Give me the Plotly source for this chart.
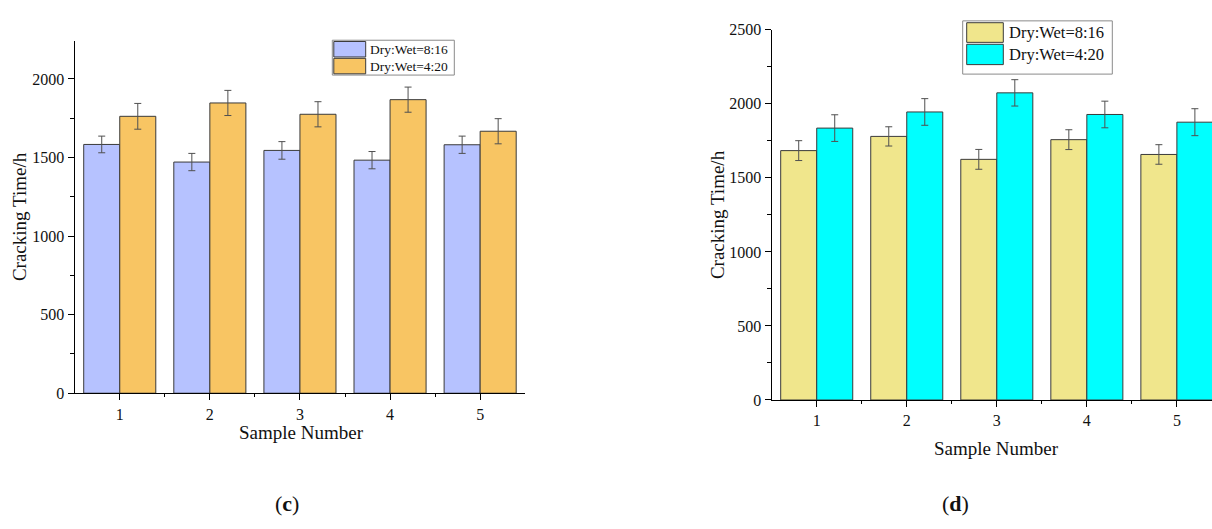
import plotly.graph_objects as go

# ---------------- data ----------------
samples = [1, 2, 3, 4, 5]
series_names = ["Dry:Wet=8:16", "Dry:Wet=4:20"]

# panel (c)
c_dry816 = [1583, 1471, 1545, 1483, 1581]
c_dry816_err = [53, 55, 56, 55, 55]
c_dry420 = [1762, 1847, 1775, 1868, 1667]
c_dry420_err = [82, 80, 80, 80, 80]

# panel (d)
d_dry816 = [1684, 1780, 1625, 1758, 1658]
d_dry816_err = [67, 65, 67, 67, 66]
d_dry420 = [1836, 1945, 2074, 1928, 1876]
d_dry420_err = [90, 90, 89, 90, 91]

y_ticks_c = [0, 500, 1000, 1500, 2000]
y_ticks_d = [0, 500, 1000, 1500, 2000, 2500]

# ---------------- style ----------------
W, H = 1212, 529
FONT = "Liberation Serif"
c_colors = ["#B6C2FF", "#F8C563"]
d_colors = ["#F0E68C", "#00FFFF"]
EDGE = "#3a3a3a"


def px(x):
    return x / W


def py(y):
    return 1 - y / H


fig = go.Figure()


def add_bars(vals, errs, color, name, xa, ya):
    fig.add_trace(go.Bar(
        x=samples, y=vals, name=name, xaxis=xa, yaxis=ya,
        marker=dict(color=color, line=dict(color=EDGE, width=1)),
        error_y=dict(type="data", array=errs, visible=True,
                     color="#505050", thickness=1, width=3.5),
        showlegend=False,
    ))


add_bars(c_dry816, c_dry816_err, c_colors[0], series_names[0], "x", "y")
add_bars(c_dry420, c_dry420_err, c_colors[1], series_names[1], "x", "y")
add_bars(d_dry816, d_dry816_err, d_colors[0], series_names[0], "x2", "y2")
add_bars(d_dry420, d_dry420_err, d_colors[1], series_names[1], "x2", "y2")

tickfont = dict(family=FONT, size=16, color="#111")

xcommon = dict(
    tickmode="array", tickvals=samples, ticktext=[str(s) for s in samples],
    showline=True, linecolor="black", linewidth=1.3, mirror=False,
    ticks="outside", ticklen=6, tickwidth=1.2, tickcolor="black",
    minor=dict(tickmode="array", tickvals=[1.5, 2.5, 3.5, 4.5],
               ticks="outside", ticklen=3, tickwidth=1.2, tickcolor="black"),
    showgrid=False, zeroline=False, tickfont=tickfont, fixedrange=True,
)
ycommon = dict(
    showline=True, linecolor="black", linewidth=1.3,
    ticks="outside", ticklen=6, tickwidth=1.2, tickcolor="black",
    minor=dict(dtick=250, ticks="outside", ticklen=4, tickwidth=1.2, tickcolor="black"),
    showgrid=False, zeroline=False, tickfont=tickfont, fixedrange=True,
)

fig.update_layout(
    width=W, height=H,
    margin=dict(l=0, r=0, t=0, b=0),
    paper_bgcolor="white", plot_bgcolor="white",
    barmode="group", bargap=0.2, bargroupgap=0,
    xaxis=dict(domain=[px(74.7), px(525.2)], range=[0.5, 5.5], anchor="y", **xcommon),
    yaxis=dict(domain=[py(398), py(34.3)], range=[0, 2240], anchor="x",
               tickvals=y_ticks_c, **ycommon),
    xaxis2=dict(domain=[px(771.7), 1.0], range=[0.5, 5.39], anchor="y2", **xcommon),
    yaxis2=dict(domain=[py(405), py(22.5)], range=[0, 2500], anchor="x2",
                tickvals=y_ticks_d, **ycommon),
)

annotations = []
shapes = []

# axis titles
title_font = dict(family=FONT, size=19, color="#111")
annotations.append(dict(text="Cracking Time/h", x=px(19), y=py(216), xref="paper", yref="paper",
                        textangle=-90, showarrow=False, font=title_font,
                        xanchor="center", yanchor="middle"))
annotations.append(dict(text="Sample Number", x=px(301), y=py(439), xref="paper", yref="paper",
                        showarrow=False, font=title_font, xanchor="center", yanchor="middle"))
annotations.append(dict(text="Cracking Time/h", x=px(717), y=py(214), xref="paper", yref="paper",
                        textangle=-90, showarrow=False, font=title_font,
                        xanchor="center", yanchor="middle"))
annotations.append(dict(text="Sample Number", x=3, y=py(455), xref="x2", yref="paper",
                        showarrow=False, font=title_font, xanchor="center", yanchor="middle"))

# panel labels
panel_font = dict(family=FONT, size=22, color="#111")
annotations.append(dict(text="(<b>c</b>)", x=px(287), y=py(512), xref="paper", yref="paper",
                        showarrow=False, font=panel_font, xanchor="center", yanchor="middle"))
annotations.append(dict(text="(<b>d</b>)", x=px(955), y=py(512), xref="paper", yref="paper",
                        showarrow=False, font=panel_font, xanchor="center", yanchor="middle"))


# legends (drawn as boxes + labels)
def legend(box, rows, colors, fsize):
    x0, y0, x1, y1 = box
    shapes.append(dict(type="rect", xref="paper", yref="paper",
                       x0=px(x0), x1=px(x1), y0=py(y1), y1=py(y0),
                       line=dict(color="#8a8a8a", width=1), fillcolor="white", layer="above"))
    for (sx0, sy0, sx1, sy1, tx), col, name in zip(rows, colors, series_names):
        shapes.append(dict(type="rect", xref="paper", yref="paper",
                           x0=px(sx0), x1=px(sx1), y0=py(sy1), y1=py(sy0),
                           line=dict(color=EDGE, width=1), fillcolor=col, layer="above"))
        annotations.append(dict(text=name, x=px(tx), y=py((sy0 + sy1) / 2), xref="paper", yref="paper",
                                showarrow=False, xanchor="left", yanchor="middle",
                                font=dict(family=FONT, size=fsize, color="#111")))


legend((332.3, 33.3, 454.3, 69.3),
       [(333.8, 34.6, 365.7, 50.6, 367.5), (333.8, 52.0, 365.7, 68.0, 367.5)],
       c_colors, 13.5)
legend((962.7, 13.3, 1112.3, 68.3),
       [(966.7, 15.2, 1003.3, 35.5, 1006.5), (966.7, 37.5, 1003.3, 58.5, 1006.5)],
       d_colors, 16.5)

fig.update_layout(annotations=annotations, shapes=shapes)

fig.write_html(
    "out.html",
    config={"displayModeBar": False},
    post_script="document.body.style.margin='0px';document.body.style.overflow='hidden';",
)
